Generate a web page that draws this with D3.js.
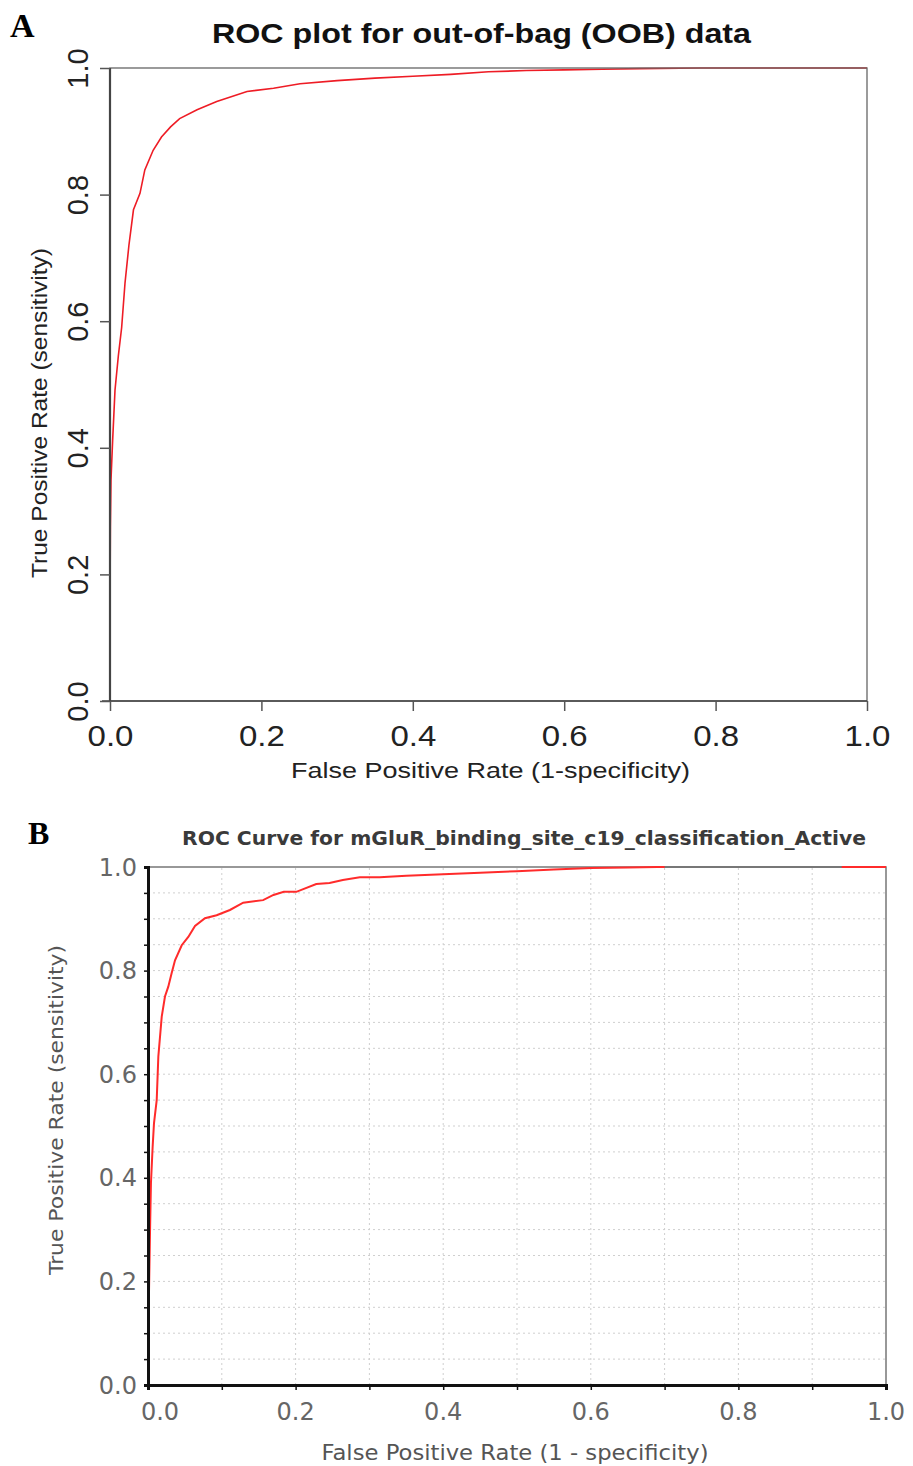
<!DOCTYPE html>
<html>
<head>
<meta charset="utf-8">
<script src="https://cdn.jsdelivr.net/npm/d3@7"></script>
<style>
  body { margin: 0; background: #fff; }
</style>
</head>
<body>
<div id="chart"></div>
<script>
// tick values shared by both panels
const majorTicks = [0, 0.2, 0.4, 0.6, 0.8, 1.0];
const minorTicksX = d3.range(0, 11).map(i => i / 10);
const minorTicksY = d3.range(0, 21).map(i => i / 20);

// Panel A: ROC for out-of-bag data
const rocA_fpr = [0, 0, 0.0005, 0.0013, 0.0035, 0.0066, 0.011, 0.0154, 0.0198, 0.025, 0.031, 0.0396,
  0.046, 0.057, 0.068, 0.08, 0.092, 0.115, 0.141, 0.181, 0.216, 0.251, 0.30, 0.35, 0.40, 0.45,
  0.50, 0.55, 0.60, 0.65, 0.70, 0.78, 0.85, 0.92, 1.0];
const rocA_tpr = [0, 0.15, 0.275, 0.349, 0.412, 0.491, 0.545, 0.590, 0.66, 0.72, 0.776, 0.802,
  0.839, 0.870, 0.891, 0.907, 0.920, 0.934, 0.947, 0.963, 0.968, 0.975, 0.980, 0.984, 0.987, 0.990,
  0.994, 0.996, 0.997, 0.998, 0.999, 1.0, 1.0, 1.0, 1.0];

// Panel B: ROC for mGluR binding site classifier
const rocB_fpr = [0, 0.001, 0.0027, 0.004, 0.0063, 0.0081, 0.0118, 0.014, 0.0186, 0.023, 0.0275,
  0.032, 0.0366, 0.0457, 0.0546, 0.0637, 0.0772, 0.093, 0.111, 0.129, 0.156, 0.170, 0.184, 0.201,
  0.228, 0.246, 0.264, 0.287, 0.314, 0.35, 0.40, 0.45, 0.50, 0.55, 0.60, 0.65, 0.69, 1.0];
const rocB_tpr = [0, 0.15, 0.293, 0.390, 0.460, 0.505, 0.550, 0.634, 0.711, 0.750, 0.769,
  0.795, 0.820, 0.849, 0.865, 0.886, 0.901, 0.907, 0.917, 0.931, 0.936, 0.946, 0.952, 0.952,
  0.967, 0.969, 0.975, 0.980, 0.980, 0.983, 0.986, 0.989, 0.992, 0.995, 0.998, 0.999, 1.0, 1.0];

const titleA = "ROC plot for out-of-bag (OOB) data";
const xTitleA = "False Positive Rate (1-specificity)";
const yTitleA = "True Positive Rate (sensitivity)";
const titleB = "ROC Curve for mGluR_binding_site_c19_classification_Active";
const xTitleB = "False Positive Rate (1 - specificity)";
const yTitleB = "True Positive Rate (sensitivity)";

const fmt = d3.format(".1f");
const sansA = "'Liberation Sans', Arial, sans-serif";
const sansB = "'DejaVu Sans', Verdana, sans-serif";

const svg = d3.select("#chart").append("svg")
  .attr("width", 913)
  .attr("height", 1466);

// ---------------- Panel A ----------------
const xA = d3.scaleLinear().domain([0, 1]).range([110, 867]);
const yA = d3.scaleLinear().domain([0, 1]).range([701, 68]);

const lineA = d3.line()
  .x(d => xA(d[0]))
  .y(d => yA(d[1]));

svg.append("path")
  .datum(d3.zip(rocA_fpr, rocA_tpr))
  .attr("fill", "none")
  .attr("stroke", "#ee1c25")
  .attr("stroke-width", 1.6)
  .attr("d", lineA);

// box
svg.append("rect")
  .attr("x", xA(0)).attr("y", yA(1))
  .attr("width", xA(1) - xA(0)).attr("height", yA(0) - yA(1))
  .attr("fill", "none").attr("stroke", "#666").attr("stroke-width", 1.3);
svg.append("line")
  .attr("x1", xA(0)).attr("x2", xA(0)).attr("y1", yA(1)).attr("y2", yA(0))
  .attr("stroke", "#444").attr("stroke-width", 2.2);
svg.append("line")
  .attr("x1", xA(0) - 8).attr("x2", xA(1)).attr("y1", yA(0)).attr("y2", yA(0))
  .attr("stroke", "#444").attr("stroke-width", 1.6);

const gxA = svg.append("g")
  .attr("transform", `translate(0,${yA(0)})`)
  .call(d3.axisBottom(xA).tickValues(majorTicks).tickSize(10).tickPadding(14).tickFormat(fmt));
gxA.select(".domain").remove();
gxA.selectAll("line").attr("stroke", "#555").attr("stroke-width", 1.5);
gxA.selectAll("text")
  .attr("font-family", sansA).attr("font-size", 30).attr("fill", "#222")
  .attr("transform", "scale(1.1,1)");

const gyA = svg.append("g")
  .attr("transform", `translate(${xA(0)},0)`)
  .call(d3.axisLeft(yA).tickValues(majorTicks).tickSize(10).tickFormat(fmt));
gyA.select(".domain").remove();
gyA.selectAll("line").attr("stroke", "#555").attr("stroke-width", 1.5);
gyA.selectAll("text")
  .attr("x", 0).attr("dy", 0)
  .attr("text-anchor", "middle")
  .attr("transform", "translate(-22,0) rotate(-90)")
  .attr("font-family", sansA).attr("font-size", 29).attr("fill", "#222");

svg.append("text")
  .attr("x", 481.5).attr("y", 43)
  .attr("text-anchor", "middle")
  .attr("font-family", sansA).attr("font-size", 28).attr("font-weight", "bold")
  .attr("fill", "#111")
  .attr("textLength", 539).attr("lengthAdjust", "spacingAndGlyphs")
  .text(titleA);

svg.append("text")
  .attr("x", 490.5).attr("y", 778)
  .attr("text-anchor", "middle")
  .attr("font-family", sansA).attr("font-size", 22).attr("fill", "#222")
  .attr("textLength", 399).attr("lengthAdjust", "spacingAndGlyphs")
  .text(xTitleA);

svg.append("text")
  .attr("transform", "translate(47,413) rotate(-90)")
  .attr("text-anchor", "middle")
  .attr("font-family", sansA).attr("font-size", 22).attr("fill", "#222")
  .attr("textLength", 330).attr("lengthAdjust", "spacingAndGlyphs")
  .text(yTitleA);

svg.append("text")
  .attr("x", 10).attr("y", 37)
  .attr("font-family", "'Liberation Serif', 'Times New Roman', serif")
  .attr("font-size", 34).attr("font-weight", "bold")
  .text("A");

// ---------------- Panel B ----------------
const xB = d3.scaleLinear().domain([0, 1]).range([148, 886]);
const yB = d3.scaleLinear().domain([0, 1]).range([1385, 867]);

// dashed grid
svg.append("g").selectAll("line")
  .data(minorTicksX.filter(d => d > 0 && d < 1))
  .join("line")
  .attr("x1", d => xB(d)).attr("x2", d => xB(d))
  .attr("y1", yB(0)).attr("y2", yB(1))
  .attr("stroke", "#cfcfcf").attr("stroke-width", 1).attr("stroke-dasharray", "2,3");
svg.append("g").selectAll("line")
  .data(minorTicksY.filter(d => d > 0 && d < 1))
  .join("line")
  .attr("x1", xB(0)).attr("x2", xB(1))
  .attr("y1", d => yB(d)).attr("y2", d => yB(d))
  .attr("stroke", "#cfcfcf").attr("stroke-width", 1).attr("stroke-dasharray", "2,3");

// top / right border
svg.append("path")
  .attr("d", `M${xB(0)},${yB(1)}H${xB(1)}V${yB(0)}`)
  .attr("fill", "none").attr("stroke", "#777").attr("stroke-width", 1.5);

const lineB = d3.line()
  .x(d => xB(d[0]))
  .y(d => yB(d[1]));

svg.append("path")
  .datum(d3.zip(rocB_fpr, rocB_tpr))
  .attr("fill", "none")
  .attr("stroke", "#ff2b2b")
  .attr("stroke-width", 2)
  .attr("d", lineB);

// border shows through over the flat part of the curve
svg.append("line")
  .attr("x1", xB(0.70)).attr("x2", xB(0.94))
  .attr("y1", yB(1)).attr("y2", yB(1))
  .attr("stroke", "#777").attr("stroke-width", 2);

// axes
const gyB = svg.append("g")
  .attr("transform", `translate(${xB(0)},0)`)
  .call(d3.axisLeft(yB).tickValues(minorTicksY).tickSize(4).tickFormat(""));
gyB.select(".domain").attr("stroke", "#111").attr("stroke-width", 3);
gyB.selectAll("line").attr("stroke", "#111").attr("stroke-width", 1.5);

const gxB = svg.append("g")
  .attr("transform", `translate(0,${yB(0)})`)
  .call(d3.axisBottom(xB).tickValues(minorTicksX).tickSize(5).tickFormat(""));
gxB.select(".domain").attr("stroke", "#111").attr("stroke-width", 3);
gxB.selectAll("line").attr("stroke", "#111").attr("stroke-width", 1.5);

// tick labels
svg.append("g").selectAll("text")
  .data(majorTicks)
  .join("text")
  .attr("x", 137)
  .attr("y", d => yB(d))
  .attr("dy", "0.36em")
  .attr("text-anchor", "end")
  .attr("font-family", sansB).attr("font-size", 24).attr("fill", "#666")
  .text(fmt);

svg.append("g").selectAll("text")
  .data(majorTicks)
  .join("text")
  .attr("x", (d, i) => xB(d) + (i === 0 ? 12 : 0))
  .attr("y", 1420)
  .attr("text-anchor", "middle")
  .attr("font-family", sansB).attr("font-size", 24).attr("fill", "#666")
  .text(fmt);

svg.append("text")
  .attr("x", 524).attr("y", 845)
  .attr("text-anchor", "middle")
  .attr("font-family", sansB).attr("font-size", 20).attr("font-weight", "bold")
  .attr("fill", "#3a3a3a")
  .attr("textLength", 684).attr("lengthAdjust", "spacingAndGlyphs")
  .text(titleB);

svg.append("text")
  .attr("x", 515).attr("y", 1460)
  .attr("text-anchor", "middle")
  .attr("font-family", sansB).attr("font-size", 21).attr("fill", "#555")
  .attr("textLength", 387).attr("lengthAdjust", "spacingAndGlyphs")
  .text(xTitleB);

svg.append("text")
  .attr("transform", "translate(63,1110) rotate(-90)")
  .attr("text-anchor", "middle")
  .attr("font-family", sansB).attr("font-size", 20).attr("fill", "#555")
  .attr("textLength", 330).attr("lengthAdjust", "spacingAndGlyphs")
  .text(yTitleB);

svg.append("text")
  .attr("x", 28).attr("y", 844)
  .attr("font-family", "'Liberation Serif', 'Times New Roman', serif")
  .attr("font-size", 32).attr("font-weight", "bold")
  .text("B");
</script>
</body>
</html>
